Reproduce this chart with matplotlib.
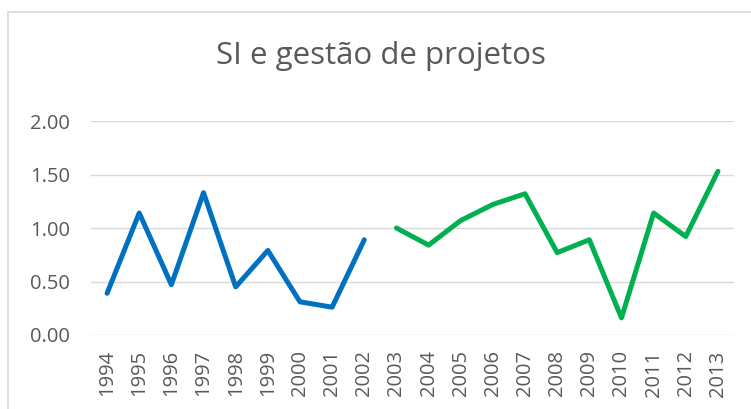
import numpy as np
import matplotlib.pyplot as plt
from matplotlib.patches import Rectangle

# Dados
anos_a = ['1994', '1995', '1996', '1997', '1998', '1999', '2000', '2001', '2002']
valores_a = [0.39, 1.14, 0.47, 1.33, 0.45, 0.79, 0.31, 0.26, 0.89]
anos_b = ['2003', '2004', '2005', '2006', '2007', '2008', '2009', '2010', '2011', '2012', '2013']
valores_b = [1.00, 0.84, 1.07, 1.22, 1.32, 0.77, 0.89, 0.16, 1.14, 0.92, 1.53]
yticks = [0.0, 0.5, 1.0, 1.5, 2.0]

plt.rcParams['font.family'] = ['Open Sans', 'DejaVu Sans']

fig = plt.figure(figsize=(7.51, 4.09), dpi=100)
ax = fig.add_axes([91 / 751, 1 - 335 / 409, (734 - 91) / 751, (335 - 121) / 409])

anos = anos_a + anos_b
xa = np.arange(len(anos_a))
xb = np.arange(len(anos_a), len(anos))

ax.plot(xa, valores_a, color='#0070C0', lw=3.6, solid_joinstyle='round', solid_capstyle='round')
ax.plot(xb, valores_b, color='#00B050', lw=3.6, solid_joinstyle='round', solid_capstyle='round')

ax.set_xlim(-0.5, len(anos) - 0.5)
ax.set_ylim(0, 2.0)
ax.set_yticks(yticks)
ax.set_yticklabels([f'{v:.2f}' for v in yticks])
ax.set_xticks(np.arange(len(anos)))
ax.set_xticklabels(anos, rotation=90)
ax.tick_params(axis='both', length=0, labelsize=14.5, labelcolor='#595959')
ax.tick_params(axis='y', pad=15)
ax.tick_params(axis='x', pad=11)

ax.grid(axis='y', color='#D9D9D9', lw=1)
ax.set_axisbelow(True)
for s in ax.spines.values():
    s.set_visible(False)

fig.text(381 / 751, 1 - 64 / 409, 'SI e gestão de projetos', ha='center', va='baseline',
         fontsize=22.5, color='#595959')

# borda do gráfico
fig.patches.append(Rectangle((8 / 751, -0.2), 1.2, 1.2 - 12 / 409, transform=fig.transFigure,
                             fill=False, edgecolor='#D9D9D9', lw=1.2))

fig.savefig('out.png', dpi=100)
